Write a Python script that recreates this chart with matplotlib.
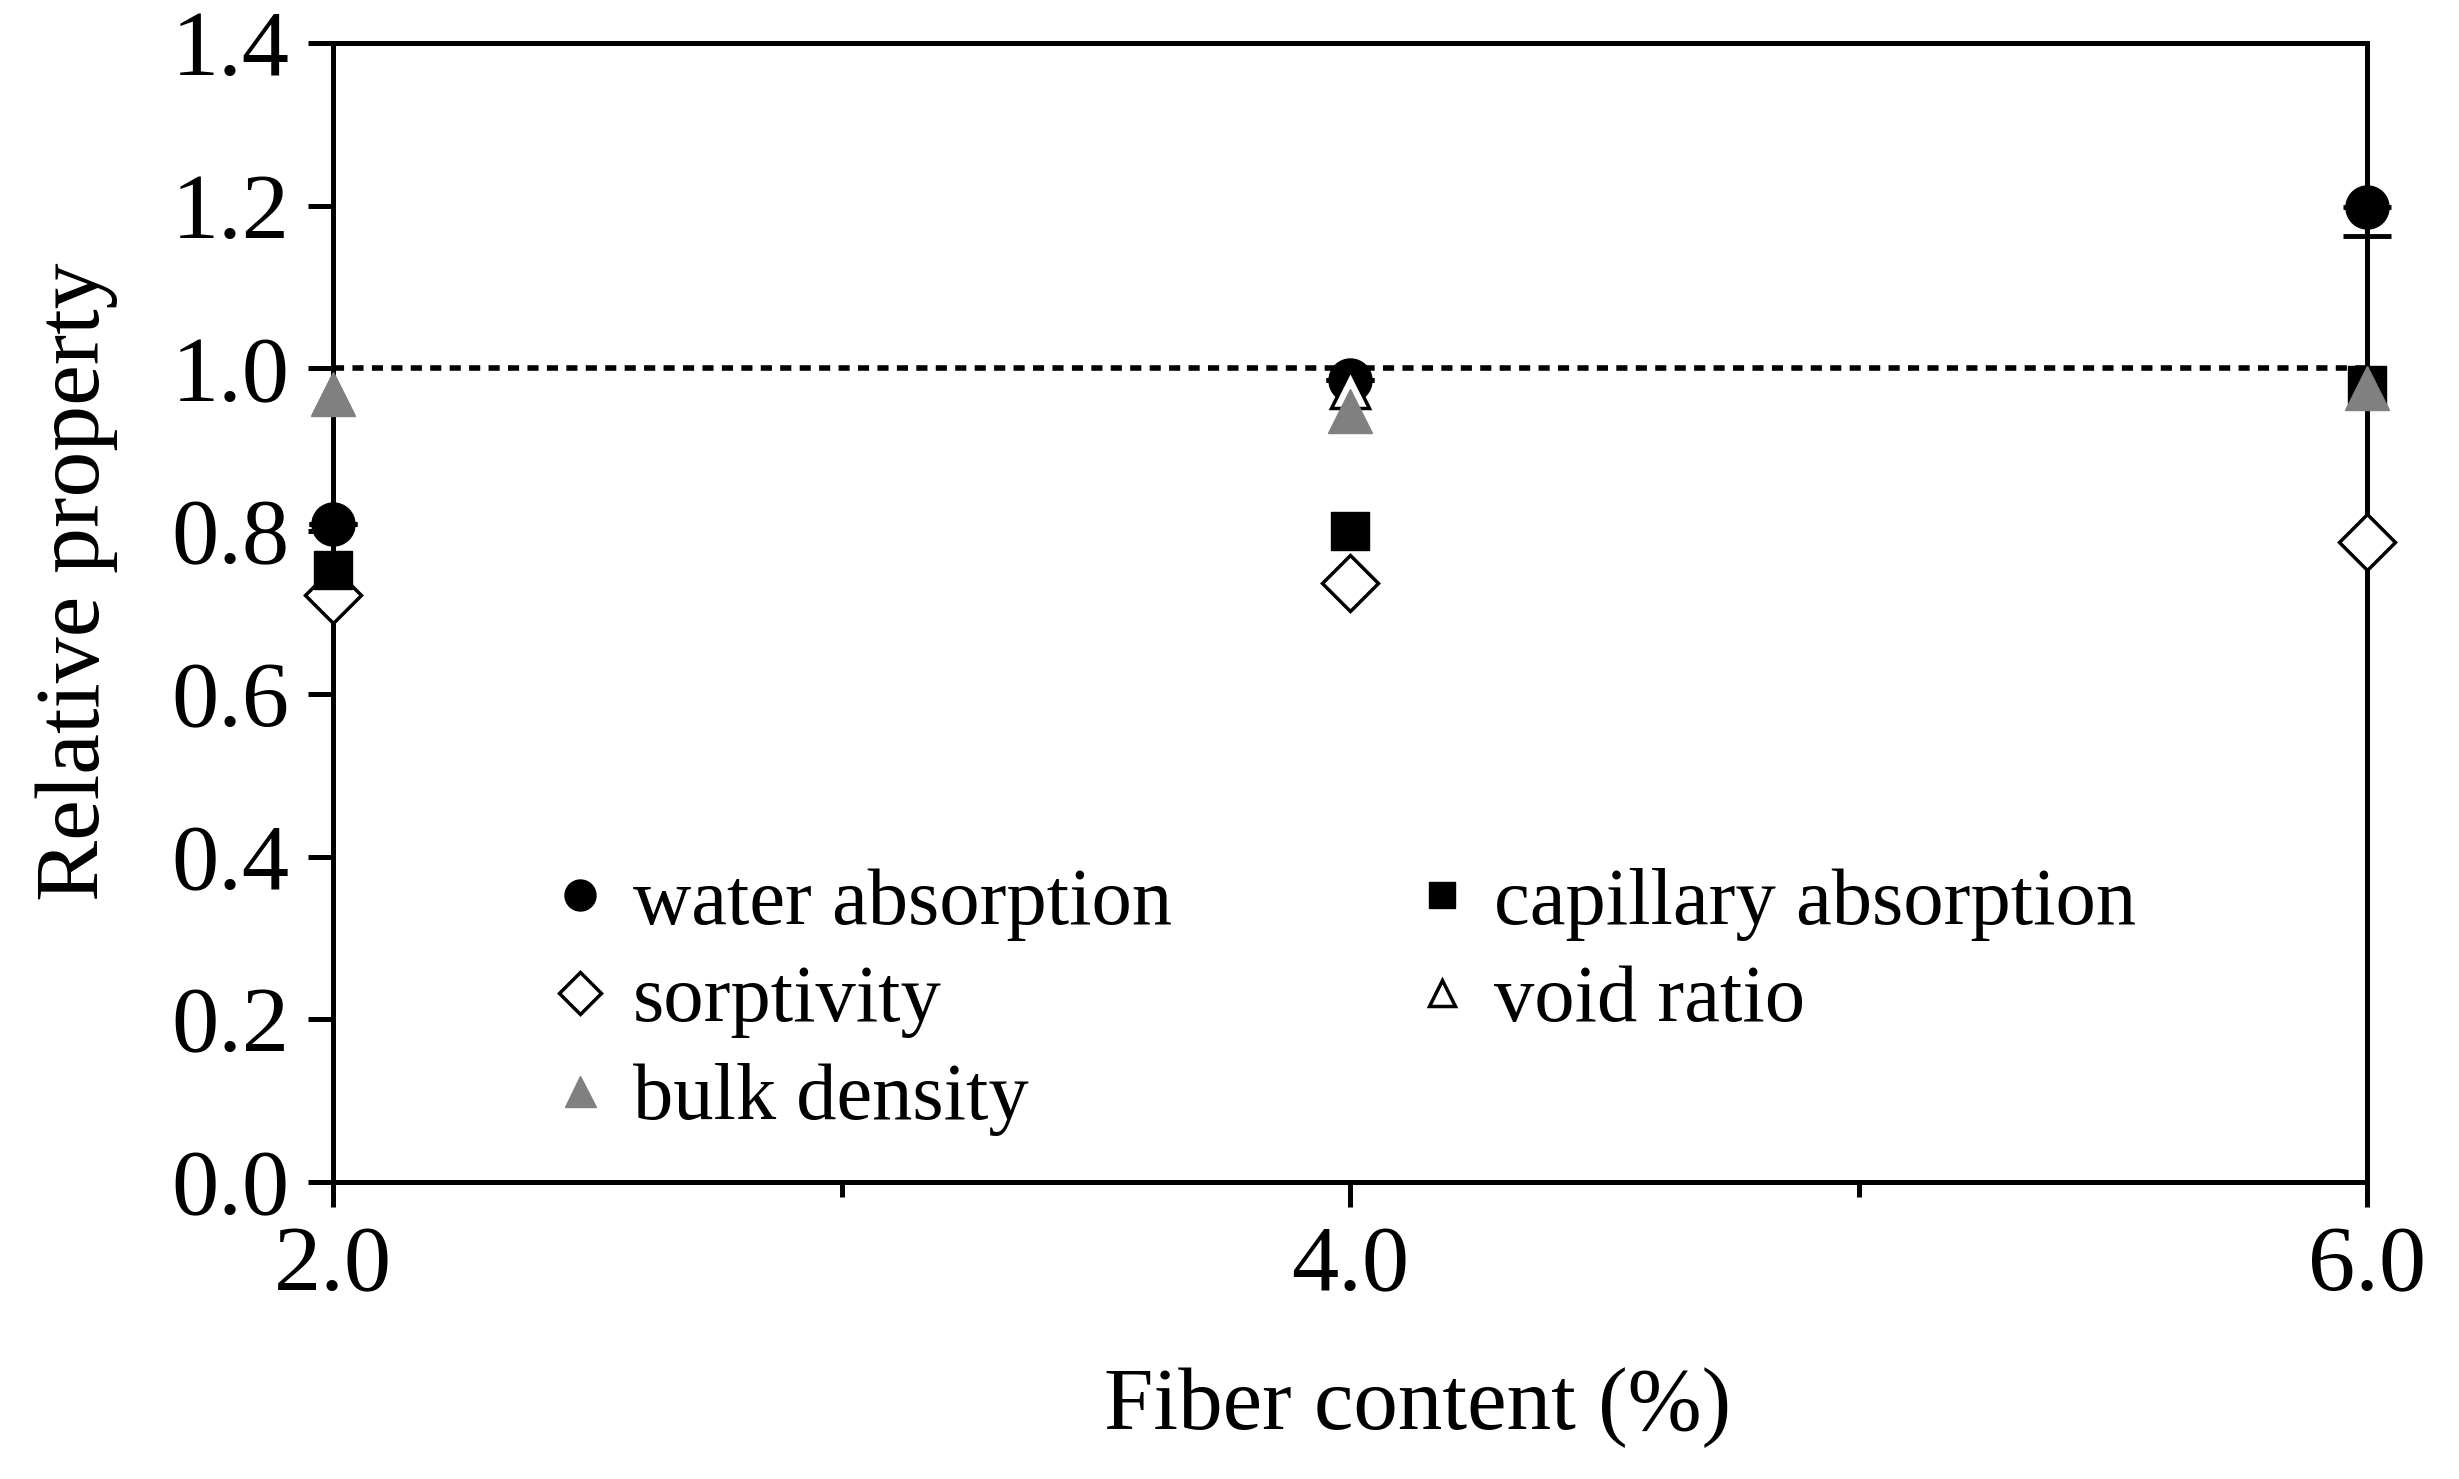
import matplotlib
matplotlib.use("Agg")
import matplotlib.pyplot as plt
import numpy as np

plt.rcParams['font.family'] = ['Liberation Serif', 'DejaVu Serif']

# Data
fiber = [2.0, 4.0, 6.0]
water_abs = [0.809, 0.986, 1.198]
water_err_low = [0.0, 0.0, 0.035]
water_err_up = [0.0, 0.0, 0.0]
capillary_abs = [0.752, 0.800, 0.980]
sorptivity = [0.722, 0.736, 0.787]
void_ratio = [0.969, 0.975, 0.976]
bulk_density = [0.969, 0.948, 0.976]

xticks = [2.0, 4.0, 6.0]
yticks = [0.0, 0.2, 0.4, 0.6, 0.8, 1.0, 1.2, 1.4]

fig = plt.figure(figsize=(24.59, 14.79), dpi=100)
ax = fig.add_axes([333/2459, 1 - 1182/1479, (2367-333)/2459, (1182-43)/1479])

# reference line at 1.0
ax.plot([2.0, 6.0], [1.0, 1.0], color='black', lw=4.0,
        linestyle=(0, (2.0, 1.5)), zorder=2)

ax.plot(fiber, sorptivity, linestyle='none', marker='D', ms=29,
        mfc='white', mec='black', mew=2.5, clip_on=False, zorder=4,
        label='sorptivity')
ax.plot(fiber, capillary_abs, linestyle='none', marker='s', ms=27,
        mfc='black', mec='black', clip_on=False, zorder=5,
        label='capillary absorption')
eb = ax.errorbar(fiber, water_abs, yerr=[water_err_low, water_err_up],
                 linestyle='none', marker='o', ms=31, mfc='black', mec='black',
                 ecolor='black', elinewidth=3, capsize=17, capthick=3.5,
                 clip_on=False, zorder=6)
eb[0].set_label('water absorption')
for art in eb.lines[1] + eb.lines[2]:
    art.set_clip_on(False)
ax.plot(fiber, void_ratio, linestyle='none', marker='^', ms=27,
        mfc='white', mec='black', mew=2.5, clip_on=False, zorder=7,
        label='void ratio')
ax.plot(fiber, bulk_density, linestyle='none', marker='^', ms=31,
        mfc='#808080', mec='#808080', clip_on=False, zorder=8,
        label='bulk density')

ax.set_xlim(2.0, 6.0)
ax.set_ylim(0.0, 1.4)
ax.set_xticks(xticks)
ax.set_xticklabels(['%.1f' % v for v in xticks])
ax.set_xticks([3.0, 5.0], minor=True)
ax.set_yticks(yticks)
ax.set_yticklabels(['%.1f' % v for v in yticks])

for s in ax.spines.values():
    s.set_linewidth(3.6)
ax.tick_params(axis='both', which='major', direction='out', length=18,
               width=3.6, labelsize=68, pad=13)
ax.tick_params(axis='x', which='minor', direction='out', length=11, width=3.6)

ax.set_xlabel('Fiber content (%)', fontsize=64, va='center')
ax.xaxis.set_label_coords(0.533, -0.198)
ax.set_ylabel('Relative property', fontsize=66, va='center')
ax.yaxis.set_label_coords(-0.126, 0.527)

handles, labels = ax.get_legend_handles_labels()
order = ['water absorption', 'sorptivity', 'bulk density',
         'capillary absorption', 'void ratio']
hmap = dict(zip(labels, handles))
leg = ax.legend([hmap[k] for k in order], order, ncol=2, frameon=False,
                fontsize=58, markerscale=0.72, handlelength=0.5,
                handletextpad=0.4, columnspacing=3.1, labelspacing=0.3,
                loc='upper left', bbox_to_anchor=(0.076, 0.34))

fig.savefig('out.png', dpi=100, facecolor='white')
